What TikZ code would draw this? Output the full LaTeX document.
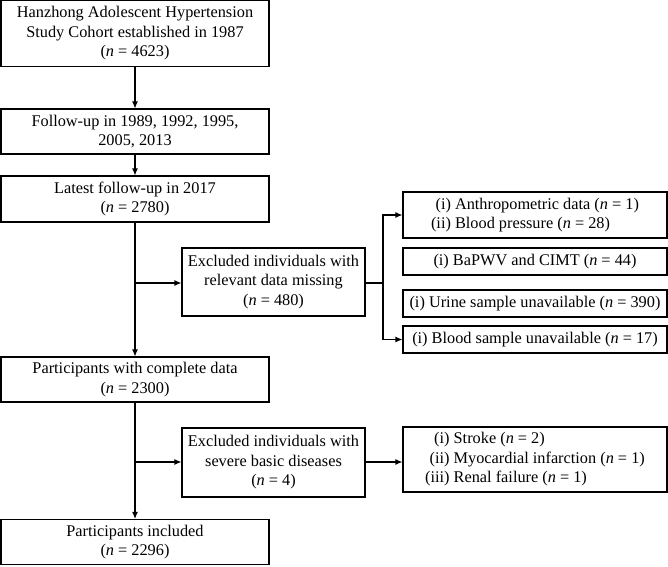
\documentclass[tikz,border=0pt]{standalone}
\usepackage{fontspec}
\setmainfont{Liberation Serif}
\usetikzlibrary{arrows.meta}
\newcommand\nn{\textit{n}}
\begin{document}
\begin{tikzpicture}[x=1pt,y=1pt,
  box/.style={draw, line width=1.1pt, inner sep=0pt, align=center,
    font=\fontsize{16.3}{19.5}\selectfont},
  conn/.style={line width=1.1pt},
  arr/.style={conn, -{Latex[length=7pt,width=6pt]}}]
\useasboundingbox (0,0) rectangle (668,-566);
% left column
\node[box, minimum width=268, minimum height=66] (b1) at (135,-33.5)
  {Hanzhong Adolescent Hypertension\\Study Cohort established in 1987\\(\nn{} = 4623)};
\node[box, minimum width=268, minimum height=45] (b2) at (135,-131.5)
  {Follow-up in 1989, 1992, 1995,\\2005, 2013};
\node[box, minimum width=268, minimum height=46] (b3) at (135,-199)
  {Latest follow-up in 2017\\(\nn{} = 2780)};
\node[box, minimum width=268, minimum height=45] (b4) at (135,-379.5)
  {Participants with complete data\\(\nn{} = 2300)};
\node[box, minimum width=268, minimum height=45] (b5) at (135,-542)
  {Participants included\\(\nn{} = 2296)};
% exclusion boxes
\node[box, minimum width=183, minimum height=68] (e1) at (273.5,-282)
  {Excluded individuals with\\relevant data missing\\(\nn{} = 480)};
\node[box, minimum width=183, minimum height=69] (e2) at (273.5,-462.5)
  {Excluded individuals with\\severe basic diseases\\(\nn{} = 4)};
% right boxes
\node[box, minimum width=264, minimum height=46] (r1) at (535,-215)
  {\begin{tabular}{@{}r@{\ }l@{}}(i) & Anthropometric data (\nn{} = 1)\\(ii) & Blood pressure (\nn{} = 28)\end{tabular}};
\node[box, minimum width=264, minimum height=27] (r2) at (535,-261.5)
  {(i) BaPWV and CIMT (\nn{} = 44)};
\node[box, minimum width=264, minimum height=27] (r3) at (535,-303.5)
  {(i) Urine sample unavailable (\nn{} = 390)};
\node[box, minimum width=264, minimum height=27] (r4) at (535,-339.5)
  {(i) Blood sample unavailable (\nn{} = 17)};
\node[box, minimum width=264, minimum height=65] (r5) at (535,-459.5)
  {\begin{tabular}{@{}r@{\ }l@{}}(i) & Stroke (\nn{} = 2)\\(ii) & Myocardial infarction (\nn{} = 1)\\(iii) & Renal failure (\nn{} = 1)\end{tabular}};
% connectors
\draw[arr] (b1) -- (b2);
\draw[arr] (b2) -- (b3);
\draw[arr] (b3) -- (b4);
\draw[arr] (b4) -- (b5);
\coordinate (j1) at (135,-283);
\coordinate (j2) at (135,-462);
\draw[arr] (j1) -- (j1 -| e1.west);
\draw[arr] (j2) -- (j2 -| e2.west);
\coordinate (k1) at (383,-283);
\draw[conn] (e1.east |- k1) -- (k1);
\draw[arr] (k1) |- (r1.west);
\draw[arr] (k1) |- (r4.west);
\draw[arr] (e2.east |- j2) -- (j2 -| r5.west);
\end{tikzpicture}
\end{document}
